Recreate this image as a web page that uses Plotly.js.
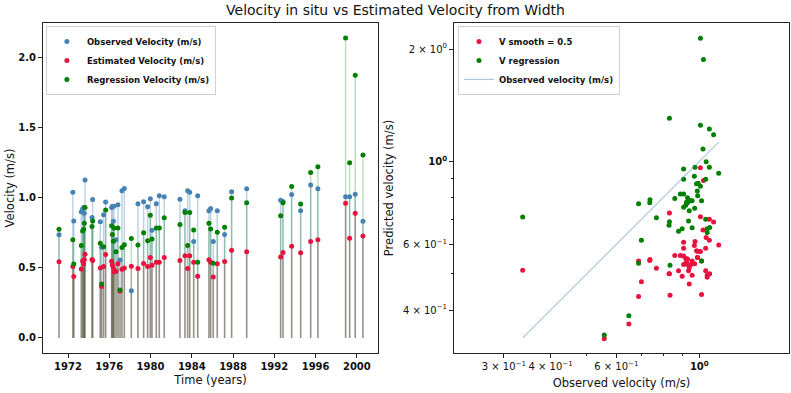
<!DOCTYPE html>
<html>
<head>
<meta charset="utf-8">
<script src="https://cdn.plot.ly/plotly-3.0.1.min.js"></script>
<style>html,body{margin:0;padding:0;background:#fff;}#chart{width:791px;height:393px;}</style>
</head>
<body>
<div id="chart"></div>
<script>
// Decimal year of each measurement
const years = [1971.13, 1972.47, 1972.56, 1973.29, 1973.42, 1973.52, 1973.58, 1973.65, 1974.33, 1974.39,
  1975.13, 1975.26, 1975.45, 1975.65, 1976.23, 1976.30, 1976.40, 1976.46, 1976.65, 1976.84,
  1977.04, 1977.23, 1977.46, 1978.14, 1978.78, 1979.33, 1979.72, 1979.98, 1980.14, 1980.56,
  1980.85, 1981.33, 1982.85, 1983.34, 1983.60, 1983.80, 1984.18, 1984.57, 1985.66, 1985.83,
  1986.08, 1986.47, 1987.18, 1987.86, 1989.32, 1992.61, 1992.84, 1993.68, 1994.55, 1995.52,
  1996.22, 1998.91, 1999.30, 1999.84, 2000.59];
// Observed velocity (m/s)
const observed = [0.737, 1.04, 0.835, 0.90, 0.92, 0.93, 0.89, 1.127, 0.86, 0.988,
  0.83, 0.648, 0.88, 0.97, 0.93, 0.94, 0.832, 0.94, 0.70, 0.95,
  0.557, 1.05, 1.066, 0.337, 0.957, 0.972, 0.936, 0.993, 0.768, 0.957,
  1.014, 1.007, 0.99, 0.908, 1.05, 1.04, 0.688, 1.014, 0.908, 0.924,
  0.688, 0.908, 0.738, 1.043, 1.064, 0.983, 0.974, 1.023, 0.908, 1.092,
  1.064, 1.007, 1.007, 1.026, 0.832];
// Estimated velocity, V smooth = 0.5 (m/s)
const estimated = [0.543, 0.51, 0.438, 0.493, 0.55, 0.53, 0.56, 0.597, 0.56, 0.553,
  0.50, 0.367, 0.51, 0.596, 0.548, 0.52, 0.50, 0.47, 0.476, 0.53,
  0.335, 0.49, 0.50, 0.511, 0.496, 0.532, 0.51, 0.574, 0.518, 0.541,
  0.541, 0.574, 0.553, 0.586, 0.496, 0.586, 0.541, 0.44, 0.558, 0.541,
  0.435, 0.53, 0.546, 0.626, 0.615, 0.577, 0.61, 0.655, 0.608, 0.688,
  0.70, 0.962, 0.711, 0.889, 0.728];
// Regression velocity (m/s)
const regression = [0.775, 0.70, 0.527, 0.66, 0.763, 0.775, 0.818, 0.93, 0.796, 0.834,
  0.675, 0.386, 0.65, 0.913, 0.80, 0.738, 0.69, 0.785, 0.615, 0.785,
  0.343, 0.645, 0.666, 0.71, 0.664, 0.75, 0.693, 0.875, 0.707, 0.785,
  0.785, 0.858, 0.81, 0.896, 0.66, 0.896, 0.771, 0.541, 0.818, 0.778,
  0.534, 0.754, 0.79, 0.998, 0.965, 0.872, 0.965, 1.08, 0.955, 1.18,
  1.222, 2.14, 1.25, 1.875, 1.305];

const yearTicks = [1972, 1976, 1980, 1984, 1988, 1992, 1996, 2000];
const velTicks = [0, 0.5, 1.0, 1.5, 2.0];
const velTickText = ['0.0', '0.5', '1.0', '1.5', '2.0'];
const logXTicks = [0.3, 0.4, 0.6, 1];
const logXTickText = ['3 × 10<sup>−1</sup>', '4 × 10<sup>−1</sup>', '6 × 10<sup>−1</sup>', '<b>10<sup>0</sup></b>'];
const logYTicks = [0.4, 0.6, 1, 2];
const logYTickText = ['4 × 10<sup>−1</sup>', '6 × 10<sup>−1</sup>', '<b>10<sup>0</sup></b>', '2 × 10<sup>0</sup>'];
const minorTicks = [0.5, 0.7, 0.8, 0.9];

const BLUE = '#4682b4', RED = '#e8123f', GREEN = '#008000';

function stems(xs, ys) {
  const sx = [], sy = [];
  xs.forEach((x, i) => { sx.push(x, x, null); sy.push(0, ys[i], null); });
  return {x: sx, y: sy};
}

const traces = [];
[[observed, 'rgba(70,130,180,0.35)'], [estimated, 'rgba(220,20,60,0.3)'], [regression, 'rgba(0,128,0,0.25)']].forEach(([vals, col]) => {
  const s = stems(years, vals);
  traces.push({type: 'scatter', mode: 'lines', x: s.x, y: s.y, xaxis: 'x', yaxis: 'y',
    line: {color: col, width: 1.5}, showlegend: false, hoverinfo: 'skip'});
});
traces.push({type: 'scatter', mode: 'markers', x: years, y: observed, name: 'Observed Velocity (m/s)',
  marker: {color: BLUE, size: 5}, xaxis: 'x', yaxis: 'y', legend: 'legend'});
traces.push({type: 'scatter', mode: 'markers', x: years, y: estimated, name: 'Estimated Velocity (m/s)',
  marker: {color: RED, size: 5}, xaxis: 'x', yaxis: 'y', legend: 'legend'});
traces.push({type: 'scatter', mode: 'markers', x: years, y: regression, name: 'Regression Velocity (m/s)',
  marker: {color: GREEN, size: 5}, xaxis: 'x', yaxis: 'y', legend: 'legend'});

const obsSorted = observed.slice().sort((a, b) => a - b);
traces.push({type: 'scatter', mode: 'markers', x: observed, y: estimated, name: 'V smooth = 0.5',
  marker: {color: RED, size: 5}, xaxis: 'x2', yaxis: 'y2', legend: 'legend2'});
traces.push({type: 'scatter', mode: 'markers', x: observed, y: regression, name: 'V regression',
  marker: {color: GREEN, size: 5}, xaxis: 'x2', yaxis: 'y2', legend: 'legend2'});
traces.push({type: 'scatter', mode: 'lines', x: obsSorted, y: obsSorted, name: 'Observed velocity (m/s)',
  line: {color: 'rgba(70,130,180,0.45)', width: 1.2}, xaxis: 'x2', yaxis: 'y2', legend: 'legend2'});

const FONT = 'DejaVu Sans, sans-serif';
const axBase = {showline: true, linecolor: '#222', linewidth: 1, mirror: true, ticks: 'outside',
  ticklen: 4, tickcolor: '#222', showgrid: false, zeroline: false};
const legBase = {bgcolor: 'rgba(255,255,255,0.85)', bordercolor: '#d0d0d0', borderwidth: 1,
  font: {family: FONT, size: 8.5, color: '#111', weight: 'bold'}, itemwidth: 30, tracegroupgap: 0,
  xanchor: 'left', yanchor: 'top'};

const layout = {
  width: 791, height: 393,
  margin: {l: 0, r: 0, t: 0, b: 0},
  paper_bgcolor: '#fff', plot_bgcolor: '#fff',
  font: {family: FONT, color: '#111'},
  title: {text: 'Velocity in situ vs Estimated Velocity from Width', font: {family: FONT, size: 14, color: '#111'},
    x: 0.5, xanchor: 'center', xref: 'paper', y: 0.975, yref: 'container', yanchor: 'middle'},
  xaxis: Object.assign({}, axBase, {domain: [0.0544, 0.4779], range: [1969.58, 2002.05],
    tickvals: yearTicks, ticktext: yearTicks.map(String),
    tickfont: {family: FONT, size: 10, weight: 'bold'},
    title: {text: 'Time (years)', font: {family: FONT, size: 11.5}, standoff: 4}}),
  yaxis: Object.assign({}, axBase, {domain: [0.1018, 0.9415], range: [-0.107, 2.247],
    tickvals: velTicks, ticktext: velTickText,
    tickfont: {family: FONT, size: 10, weight: 'bold'},
    title: {text: 'Velocity (m/s)', font: {family: FONT, size: 11.5}, standoff: 1}}),
  xaxis2: Object.assign({}, axBase, {domain: [0.574, 0.9975], type: 'log', range: [-0.656, 0.240],
    tickvals: logXTicks, ticktext: logXTickText, anchor: 'y2',
    tickfont: {family: FONT, size: 10},
    minor: {tickvals: minorTicks, ticklen: 2, tickcolor: '#222', ticks: 'outside'},
    title: {text: 'Observed velocity (m/s)', font: {family: FONT, size: 11.5}, standoff: 7}}),
  yaxis2: Object.assign({}, axBase, {domain: [0.1018, 0.9415], type: 'log', range: [-0.513, 0.371],
    tickvals: logYTicks, ticktext: logYTickText, anchor: 'x2',
    tickfont: {family: FONT, size: 10},
    minor: {tickvals: minorTicks, ticklen: 2, tickcolor: '#222', ticks: 'outside'},
    title: {text: 'Predicted velocity (m/s)', font: {family: FONT, size: 11.5}, standoff: 6}}),
  legend: Object.assign({}, legBase, {x: 0.058, y: 0.934}),
  legend2: Object.assign({}, legBase, {x: 0.579, y: 0.934}),
  showlegend: true
};

Plotly.newPlot('chart', traces, layout, {displayModeBar: false, staticPlot: true});
</script>
</body>
</html>
